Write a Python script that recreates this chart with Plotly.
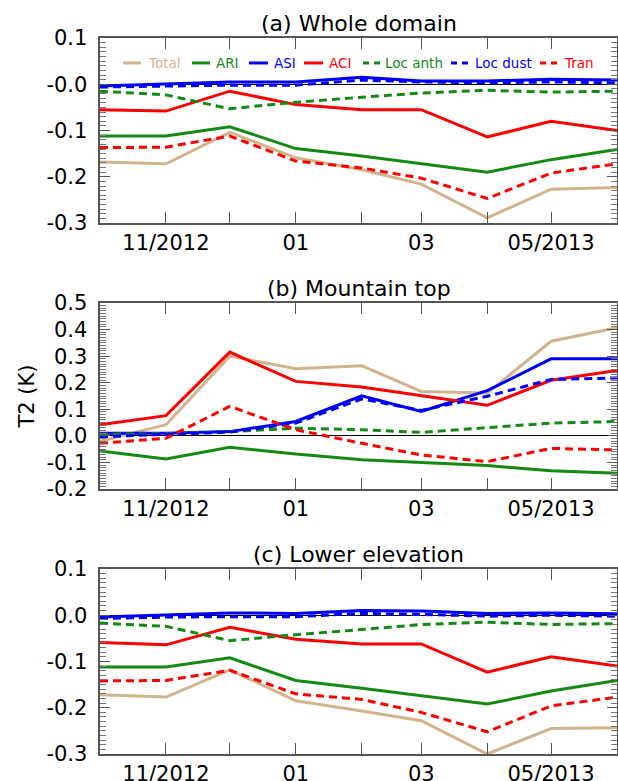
import plotly.graph_objects as go
from plotly.subplots import make_subplots

months = ["2012-10-01", "2012-11-01", "2012-12-01", "2013-01-01", "2013-02-01",
          "2013-03-01", "2013-04-01", "2013-05-01", "2013-06-01"]
month_labels = ["", "11/2012", "", "01", "", "03", "", "05/2013", ""]

series_names = ["Total", "ARI", "ASI", "ACI", "Loc anth", "Loc dust", "Tran"]

# (a) Whole domain
total_a = [-0.168, -0.172, -0.104, -0.159, -0.185, -0.216, -0.289, -0.227, -0.223]
ari_a = [-0.112, -0.112, -0.092, -0.139, -0.155, -0.172, -0.190, -0.163, -0.141]
asi_a = [-0.004, 0.000, 0.005, 0.005, 0.015, 0.007, 0.007, 0.011, 0.009]
aci_a = [-0.055, -0.058, -0.015, -0.044, -0.055, -0.055, -0.114, -0.080, -0.100]
anth_a = [-0.015, -0.023, -0.053, -0.039, -0.028, -0.019, -0.013, -0.017, -0.015]
dust_a = [-0.006, -0.004, -0.002, -0.002, 0.009, 0.005, 0.003, 0.005, 0.003]
tran_a = [-0.137, -0.136, -0.112, -0.166, -0.181, -0.203, -0.247, -0.192, -0.172]

# (b) Mountain top
total_b = [-0.020, 0.042, 0.300, 0.253, 0.264, 0.167, 0.161, 0.356, 0.407]
ari_b = [-0.057, -0.087, -0.043, -0.068, -0.090, -0.100, -0.112, -0.131, -0.141]
asi_b = [0.010, 0.010, 0.016, 0.054, 0.151, 0.092, 0.170, 0.290, 0.290]
aci_b = [0.042, 0.076, 0.315, 0.205, 0.184, 0.151, 0.115, 0.209, 0.246]
anth_b = [0.006, 0.008, 0.016, 0.029, 0.023, 0.013, 0.031, 0.048, 0.054]
dust_b = [-0.003, 0.006, 0.014, 0.048, 0.139, 0.096, 0.149, 0.212, 0.218]
tran_b = [-0.028, -0.009, 0.111, 0.023, -0.028, -0.072, -0.097, -0.047, -0.053]

# (c) Lower elevation
total_c = [-0.172, -0.177, -0.118, -0.185, -0.207, -0.228, -0.300, -0.245, -0.243]
ari_c = [-0.112, -0.112, -0.092, -0.141, -0.158, -0.174, -0.192, -0.164, -0.141]
asi_c = [-0.004, 0.001, 0.005, 0.004, 0.010, 0.009, 0.004, 0.005, 0.003]
aci_c = [-0.059, -0.064, -0.026, -0.052, -0.062, -0.062, -0.123, -0.090, -0.110]
anth_c = [-0.017, -0.024, -0.055, -0.042, -0.031, -0.020, -0.015, -0.020, -0.018]
dust_c = [-0.007, -0.004, -0.003, -0.003, 0.004, 0.002, -0.002, 0.000, -0.002]
tran_c = [-0.142, -0.141, -0.119, -0.170, -0.182, -0.210, -0.252, -0.196, -0.177]

panel_titles = ["(a) Whole domain", "(b) Mountain top", "(c) Lower elevation"]
ytick_vals_a = [0.1, 0.0, -0.1, -0.2, -0.3]
ytick_text_a = ["0.1", "-0.0", "-0.1", "-0.2", "-0.3"]
ytick_vals_b = [0.5, 0.4, 0.3, 0.2, 0.1, 0.0, -0.1, -0.2]
ytick_text_b = ["0.5", "0.4", "0.3", "0.2", "0.1", "0.0", "-0.1", "-0.2"]
ytick_vals_c = [0.1, 0.0, -0.1, -0.2, -0.3]
ytick_text_c = ["0.1", "0.0", "-0.1", "-0.2", "-0.3"]

colors = ["#D2B48C", "#138A13", "#0000FF", "#FF0000", "#138A13", "#0000FF", "#FF0000"]
dashes = ["solid", "solid", "solid", "solid", "8px,5px", "8px,5px", "8px,5px"]

panels = [
    [total_a, ari_a, asi_a, aci_a, anth_a, dust_a, tran_a],
    [total_b, ari_b, asi_b, aci_b, anth_b, dust_b, tran_b],
    [total_c, ari_c, asi_c, aci_c, anth_c, dust_c, tran_c],
]
yranges = [[-0.3, 0.1], [-0.2, 0.5], [-0.3, 0.1]]
yticks = [(ytick_vals_a, ytick_text_a), (ytick_vals_b, ytick_text_b), (ytick_vals_c, ytick_text_c)]

W, H = 618, 781
fig = make_subplots(rows=3, cols=1, shared_xaxes=False)

frame = "#555555"
tickc = "#555555"
font = "DejaVu Sans"
pad = "\u00a0"  # gap between y tick labels and the frame

for r, data in enumerate(panels, start=1):
    for name, vals, col, dsh in zip(series_names, data, colors, dashes):
        fig.add_trace(go.Scatter(x=months, y=vals, mode="lines", name=name,
                                 line=dict(color=col, width=3, dash=dsh),
                                 showlegend=False, hoverinfo="skip"), row=r, col=1)
    fig.update_xaxes(row=r, col=1, range=[months[0], months[-1]], tickmode="array", tickvals=months,
                     ticktext=month_labels, ticks="inside", ticklen=11, tickwidth=1.2, tickcolor=tickc,
                     showline=True, linecolor=frame, linewidth=1.5, mirror="ticks", automargin=False,
                     showgrid=False, zeroline=False, tickfont=dict(size=21, color="black", family=font))
    tv, tt = yticks[r - 1]
    fig.update_yaxes(row=r, col=1, range=yranges[r - 1], tickmode="array", tickvals=tv,
                     ticktext=[t + pad for t in tt],
                     ticks="inside", ticklen=10, tickwidth=1.2, tickcolor=tickc,
                     minor=dict(tickmode="linear", dtick=0.01, ticks="inside", ticklen=6, tickwidth=1,
                                tickcolor="#777777", showgrid=False),
                     showline=True, linecolor=frame, linewidth=1.5, mirror="ticks", automargin=False,
                     showgrid=False, zeroline=True, zerolinecolor="black", zerolinewidth=1.2,
                     tickfont=dict(size=21, color="black", family=font))

fig.update_layout(
    yaxis=dict(domain=[0.7416, 1.0]),
    yaxis2=dict(domain=[0.3701, 0.6299], title=dict(text="T2 (K)", font=dict(size=21, family=font, color="black"), standoff=6)),
    yaxis3=dict(domain=[0.0, 0.2584]),
    xaxis=dict(domain=[0, 1]), xaxis2=dict(domain=[0, 1]), xaxis3=dict(domain=[0, 1]),
)

annotations = []
for i, t in enumerate(panel_titles, start=1):
    sfx = "" if i == 1 else str(i)
    annotations.append(dict(text=t, xref=f"x{sfx} domain", yref=f"y{sfx} domain", x=0.5, y=1.0,
                            xanchor="center", yanchor="bottom", yshift=0, showarrow=False,
                            font=dict(size=22, family=font, color="black")))

# Legend drawn inside panel (a)
leg_line_x0 = [123, 192, 249, 304, 363, 451, 540]
leg_line_x1 = [141, 210, 268, 323, 380, 470, 560]
leg_text_x = [146, 214, 272, 327, 383, 473, 562]
plot_l, plot_w = 100, 517
leg_y = 0.865
shapes = []
for name, col, dsh, x0, x1, xt in zip(series_names, colors, dashes, leg_line_x0, leg_line_x1, leg_text_x):
    shapes.append(dict(type="line", xref="x domain", yref="y domain",
                       x0=(x0 - plot_l) / plot_w, x1=(x1 - plot_l) / plot_w, y0=leg_y, y1=leg_y,
                       line=dict(color=col, width=3, dash="solid" if dsh == "solid" else "6px,5px")))
    annotations.append(dict(text=name, xref="x domain", yref="y domain", x=(xt - plot_l) / plot_w,
                            y=leg_y, xanchor="left", yanchor="middle", showarrow=False,
                            font=dict(size=13.5, family=font, color=col)))

fig.update_layout(
    width=W, height=H, margin=dict(l=100, r=1, t=38, b=27),
    paper_bgcolor="white", plot_bgcolor="white",
    annotations=annotations, shapes=shapes, showlegend=False,
    font=dict(family=font, color="black"),
)

fig.write_html("out.html")
